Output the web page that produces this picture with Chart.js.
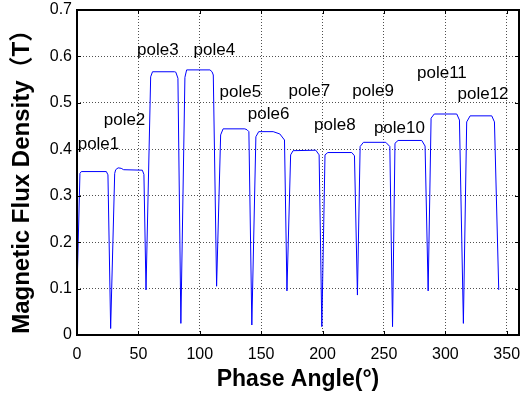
<!DOCTYPE html>
<html>
<head>
<meta charset="utf-8">
<script src="https://cdn.jsdelivr.net/npm/chart.js@4/dist/chart.umd.min.js"></script>
<style>
  body { margin: 0; background: #fff; }
  canvas { display: block; }
</style>
</head>
<body>
<canvas id="fluxChart" width="523" height="398"></canvas>
<script>
// flux density along the air gap (deg, T)
const phaseAngle = [
  0, 2.4, 3.5, 23.9, 25.2, 27.4,
  30.7, 31.5, 33.5, 36, 38, 53.2, 54.5, 56.2,
  60, 61.5, 79.5, 80.5, 82.2, 84.6,
  87.9, 89.3, 108.3, 110, 111, 113.7,
  117, 119, 136.7, 138.5, 140, 142.4,
  145.7, 148, 159.8, 165.2, 169, 171,
  174, 176, 194.5, 197.2, 199.4,
  202, 204.3, 223.8, 226, 228.4,
  230.6, 233.3, 251.5, 254.8, 257,
  259, 261.5, 280.8, 283.5, 286,
  288.4, 291, 309.3, 311.5, 314.7,
  317.4, 320.2, 337.8, 340, 343.5
];
const fluxDensity = [
  0.097, 0.348, 0.352, 0.352, 0.345, 0.014,
  0.348, 0.356, 0.360, 0.359, 0.356, 0.355, 0.346, 0.097,
  0.556, 0.567, 0.567, 0.566, 0.553, 0.025,
  0.555, 0.571, 0.571, 0.567, 0.560, 0.105,
  0.431, 0.444, 0.444, 0.442, 0.438, 0.0215,
  0.427, 0.438, 0.438, 0.433, 0.420, 0.095,
  0.388, 0.397, 0.398, 0.388, 0.018,
  0.388, 0.393, 0.393, 0.386, 0.086,
  0.406, 0.415, 0.415, 0.406, 0.018,
  0.413, 0.419, 0.419, 0.407, 0.095,
  0.467, 0.476, 0.476, 0.463, 0.025,
  0.459, 0.472, 0.472, 0.459, 0.097
];

// pole labels and where they sit
const poleNames = ['pole1', 'pole2', 'pole3', 'pole4', 'pole5', 'pole6',
                   'pole7', 'pole8', 'pole9', 'pole10', 'pole11', 'pole12'];
const poleAngle = [17.5, 38.7, 65.9, 111.9, 133.1, 156.1, 189.2, 210.0, 241.2, 262.6, 297.2, 330.7];
const poleFlux  = [0.410, 0.462, 0.613, 0.613, 0.522, 0.476, 0.524, 0.451, 0.524, 0.445, 0.564, 0.519];

const xTickValues = [0, 50, 100, 150, 200, 250, 300, 350];
const yTickValues = [0, 0.1, 0.2, 0.3, 0.4, 0.5, 0.6, 0.7];
const yTickLabels = ['0', '0.1', '0.2', '0.3', '0.4', '0.5', '0.6', '0.7'];

const FONT = '"Liberation Sans", Arial, "Noto Sans CJK SC", sans-serif';

// box around the plot with matlab style inner ticks, plus pole names
const boxPlugin = {
  id: 'boxPlugin',
  afterDraw(chart) {
    const ctx = chart.ctx;
    const a = chart.chartArea;
    const xs = chart.scales.x, ys = chart.scales.y;
    const tl = 4;
    ctx.save();
    ctx.strokeStyle = '#000';
    ctx.lineWidth = 1;
    ctx.beginPath();
    xTickValues.forEach(v => {
      const px = Math.round(xs.getPixelForValue(v)) + 0.5;
      ctx.moveTo(px, a.bottom); ctx.lineTo(px, a.bottom - tl);
      ctx.moveTo(px, a.top); ctx.lineTo(px, a.top + tl);
    });
    yTickValues.forEach(v => {
      const py = Math.round(ys.getPixelForValue(v)) + 0.5;
      ctx.moveTo(a.left, py); ctx.lineTo(a.left + tl, py);
      ctx.moveTo(a.right, py); ctx.lineTo(a.right - tl, py);
    });
    ctx.stroke();
    ctx.lineWidth = 2;
    ctx.strokeRect(a.left, a.top, a.right - a.left, a.bottom - a.top);

    ctx.fillStyle = '#000';
    ctx.font = '17px ' + FONT;
    ctx.textAlign = 'center';
    ctx.textBaseline = 'middle';
    poleNames.forEach((name, i) => {
      ctx.fillText(name, xs.getPixelForValue(poleAngle[i]), ys.getPixelForValue(poleFlux[i]));
    });
    ctx.restore();
  }
};

new Chart(document.getElementById('fluxChart'), {
  type: 'line',
  data: {
    datasets: [{
      data: phaseAngle.map((a, i) => ({ x: a, y: fluxDensity[i] })),
      borderColor: '#0000ff',
      borderWidth: 1,
      pointRadius: 0,
      tension: 0,
      fill: false
    }]
  },
  options: {
    responsive: false,
    animation: false,
    devicePixelRatio: 1,
    layout: { padding: { top: 10, right: 4, left: 0, bottom: 0 } },
    plugins: {
      legend: { display: false },
      tooltip: { enabled: false }
    },
    scales: {
      x: {
        type: 'linear',
        min: 0,
        max: 360,
        afterBuildTicks: s => { s.ticks = xTickValues.map(v => ({ value: v })); },
        afterFit: s => { s.height = 63; s.paddingLeft = 0; s.paddingRight = 0; },
        grid: { color: '#505050', lineWidth: 1, drawTicks: false },
        border: { display: false, dash: [1, 2] },
        ticks: {
          font: { family: FONT, size: 16 },
          color: '#000',
          padding: 10,
          maxRotation: 0,
          autoSkip: false
        },
        title: {
          display: true,
          text: 'Phase Angle(°)',
          color: '#000',
          font: { family: FONT, size: 23, weight: 'bold' },
          padding: { top: 0, bottom: 5 }
        }
      },
      y: {
        type: 'linear',
        min: 0,
        max: 0.7,
        afterBuildTicks: s => { s.ticks = yTickValues.map(v => ({ value: v })); },
        afterFit: s => { s.width = 77; s.paddingTop = 0; s.paddingBottom = 0; },
        grid: { color: '#505050', lineWidth: 1, drawTicks: false },
        border: { display: false, dash: [1, 2] },
        ticks: {
          font: { family: FONT, size: 16 },
          color: '#000',
          padding: 5,
          autoSkip: false,
          callback: (v, i) => yTickLabels[i]
        },
        title: {
          display: true,
          text: 'Magnetic Flux Density（T） ',
          color: '#000',
          font: { family: FONT, size: 24, weight: 'bold' },
          padding: { top: 8, bottom: 0 }
        }
      }
    }
  },
  plugins: [boxPlugin]
});
</script>
</body>
</html>
